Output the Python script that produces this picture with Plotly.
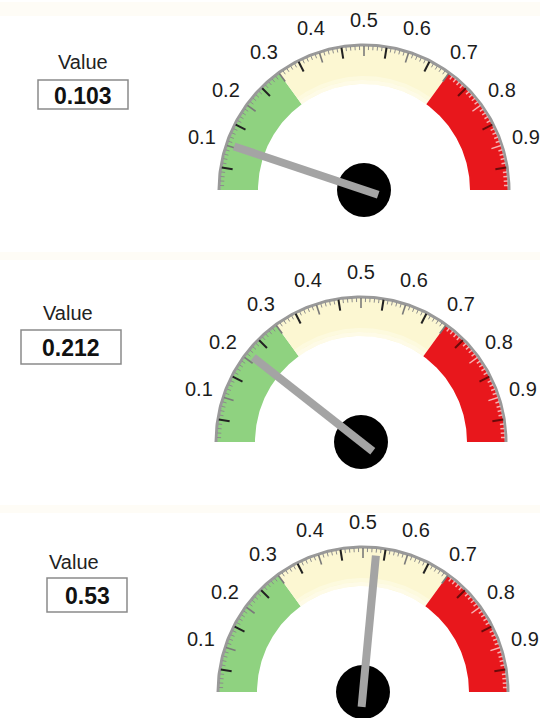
import numpy as np
import plotly.graph_objects as go

# Readings shown on the three dials
values = [0.103, 0.212, 0.53]
value_texts = ["0.103", "0.212", "0.53"]
value_title = "Value"

# Dial scale: coloured zones and printed scale labels
band_edges = [0.0, 0.3, 0.7, 1.0]
band_colors = ["#8fd280", "#fcf7d2", "#e8171c"]
scale_labels = ["0.1", "0.2", "0.3", "0.4", "0.5", "0.6", "0.7", "0.8", "0.9"]
scale_values = [0.1, 0.2, 0.3, 0.4, 0.5, 0.6, 0.7, 0.8, 0.9]

# Page layout (pixel space, y grows downward)
W, H = 540, 718
centers = [(364, 190), (361, 442), (363, 692)]
boxes = [(38, 80, 128, 109), (21, 330, 121, 364), (47, 578, 127, 612)]
title_pos = [(83, 62), (68, 313), (74, 562)]

R_OUT = 145
R_IN = 106
LABEL_R = 170


def ang(v):
    return np.pi * (1.0 - v)


def pt(cx, cy, r, v):
    a = ang(v)
    return cx + r * np.cos(a), cy - r * np.sin(a)


fig = go.Figure()

# faint streaks across the page
for y0, y1 in [(2, 16), (252, 260), (505, 513)]:
    fig.add_shape(type="rect", x0=0, x1=W, y0=y0, y1=y1, line_width=0,
                  fillcolor="rgba(250,243,215,0.22)", layer="below")

for gi, (cx, cy) in enumerate(centers):
    # coloured zones
    for b in range(len(band_colors)):
        v0, v1 = band_edges[b], band_edges[b + 1]
        vs = np.linspace(v0, v1, 80)
        ox, oy = pt(cx, cy, R_OUT - 1, vs)
        ix, iy = pt(cx, cy, R_IN, vs[::-1])
        fig.add_trace(go.Scatter(x=np.r_[ox, ix, ox[0]], y=np.r_[oy, iy, oy[0]],
                                 mode="lines", fill="toself",
                                 fillcolor=band_colors[b], line=dict(width=0),
                                 hoverinfo="skip", showlegend=False))
        if b == 1:
            # soft inner edge of the cream zone
            for r_a, r_b, alpha in [(R_IN, R_IN + 4, 0.6), (R_IN + 4, R_IN + 8, 0.35)]:
                ia, ja = pt(cx, cy, r_a, vs)
                ib, jb = pt(cx, cy, r_b, vs[::-1])
                fig.add_trace(go.Scatter(x=np.r_[ia, ib, ia[0]], y=np.r_[ja, jb, ja[0]],
                                         mode="lines", fill="toself",
                                         fillcolor="rgba(255,254,245,%.2f)" % alpha,
                                         line=dict(width=0),
                                         hoverinfo="skip", showlegend=False))

    # outer rim
    vs = np.linspace(0, 1, 200)
    rx, ry = pt(cx, cy, R_OUT, vs)
    fig.add_trace(go.Scatter(x=rx, y=ry, mode="lines",
                             line=dict(color="#999999", width=3),
                             hoverinfo="skip", showlegend=False))

    # ticks: fine every 0.01, longer at tenths and at the halfway marks
    groups = {"minor": ([], [], "#8c8c8c", 1),
              "minor_red": ([], [], "#f6b3b3", 1.5),
              "tenth": ([], [], "#7a7a7a", 1.6),
              "half": ([], [], "#222222", 2),
              "half_red": ([], [], "#6a0a0a", 2)}
    for k in range(1, 100):
        v = k / 100
        red = v > band_edges[2]
        if k % 10 == 5:
            key, r0 = ("half_red" if red else "half"), R_OUT - 12
        elif k % 10 == 0:
            key, r0 = ("minor_red" if red else "tenth"), R_OUT - 11
        else:
            key, r0 = ("minor_red" if red else "minor"), R_OUT - 5
        x0, y0 = pt(cx, cy, r0, v)
        x1, y1 = pt(cx, cy, R_OUT - 1, v)
        gx, gy, _, _ = groups[key]
        gx += [x0, x1, None]
        gy += [y0, y1, None]
    for key, (gx, gy, col, wd) in groups.items():
        fig.add_trace(go.Scatter(x=gx, y=gy, mode="lines",
                                 line=dict(color=col, width=wd),
                                 hoverinfo="skip", showlegend=False))

    # scale labels
    for lab, v in zip(scale_labels, scale_values):
        lx, ly = pt(cx, cy, LABEL_R, v)
        fig.add_annotation(x=lx, y=ly, text=lab, showarrow=False,
                           font=dict(family="Liberation Sans", size=20, color="#1c1c1c"),
                           xanchor="center", yanchor="middle")

    # pivot hub
    fig.add_trace(go.Scatter(x=[cx], y=[cy], mode="markers",
                             marker=dict(size=54, color="#000000", line=dict(width=0)),
                             hoverinfo="skip", showlegend=False))

    # needle as a narrow bar from a short tail to the reading
    v = values[gi]
    a = ang(v)
    ux, uy = np.cos(a), -np.sin(a)
    px, py = -uy, ux
    hw = 4.0
    tail, tip = -15, 137
    nx = [cx + ux * tail + px * hw, cx + ux * tip + px * hw,
          cx + ux * tip - px * hw, cx + ux * tail - px * hw]
    ny = [cy + uy * tail + py * hw, cy + uy * tip + py * hw,
          cy + uy * tip - py * hw, cy + uy * tail - py * hw]
    fig.add_trace(go.Scatter(x=nx + [nx[0]], y=ny + [ny[0]], mode="lines",
                             fill="toself", fillcolor="#a4a4a4",
                             line=dict(width=0), hoverinfo="skip", showlegend=False))

    # reading box
    bx0, by0, bx1, by1 = boxes[gi]
    fig.add_shape(type="rect", x0=bx0, y0=by0, x1=bx1, y1=by1,
                  line=dict(color="#8a8a8a", width=1.5), fillcolor="white")
    fig.add_annotation(x=(bx0 + bx1) / 2, y=(by0 + by1) / 2 + 1, text="<b>%s</b>" % value_texts[gi],
                       showarrow=False, xanchor="center", yanchor="middle",
                       font=dict(family="Liberation Sans", size=23, color="#111111"))
    tx, ty = title_pos[gi]
    fig.add_annotation(x=tx, y=ty, text=value_title, showarrow=False,
                       xanchor="center", yanchor="middle",
                       font=dict(family="Liberation Sans", size=20, color="#222222"))

fig.update_xaxes(range=[0, W], visible=False, fixedrange=True)
fig.update_yaxes(range=[H, 0], visible=False, fixedrange=True)
fig.update_layout(width=W, height=H, margin=dict(l=0, r=0, t=0, b=0),
                  paper_bgcolor="white", plot_bgcolor="white", showlegend=False)

fig.write_html("out.html", config={"displayModeBar": False})
